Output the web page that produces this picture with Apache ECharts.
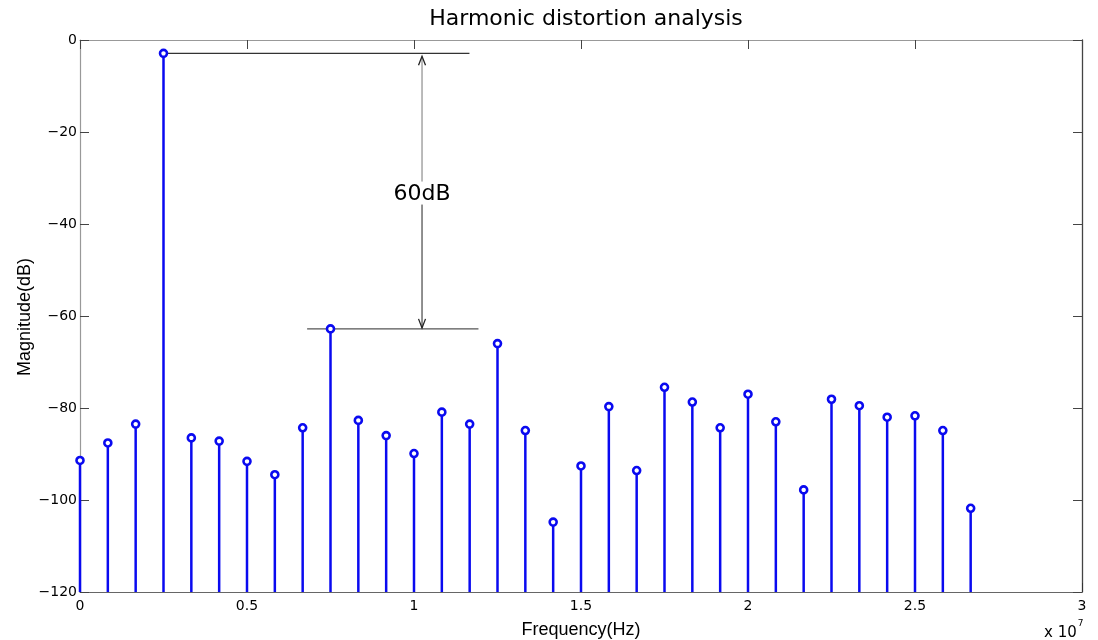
<!DOCTYPE html>
<html>
<head>
<meta charset="utf-8">
<script src="https://cdn.jsdelivr.net/npm/echarts@6/dist/echarts.min.js"></script>
<style>
  html, body { margin: 0; padding: 0; background: #fff; }
  #chart { width: 1098px; height: 640px; }
</style>
</head>
<body>
<div id="chart"></div>
<script>
// Spectrum bins (Hz) and their magnitudes (dB)
const frequencies = [
  0, 833333, 1666667, 2500000, 3333333, 4166667, 5000000, 5833333,
  6666667, 7500000, 8333333, 9166667, 10000000, 10833333, 11666667, 12500000,
  13333333, 14166667, 15000000, 15833333, 16666667, 17500000, 18333333, 19166667,
  20000000, 20833333, 21666667, 22500000, 23333333, 24166667, 25000000, 25833333,
  26666667
];
const magnitudes = [
  -91.4, -87.6, -83.5, -2.9, -86.5, -87.2, -91.6, -94.5,
  -84.3, -62.8, -82.7, -86.0, -89.9, -80.9, -83.5, -66.0,
  -84.9, -104.8, -92.6, -79.7, -93.6, -75.5, -78.7, -84.3,
  -77.0, -83.0, -97.8, -78.1, -79.5, -82.0, -81.7, -84.9,
  -101.8
];

// Dimension annotation: fundamental level vs. largest spur
const fundamentalLevel = -2.9;
const spurLevel = -62.8;
const topRefLine = [[2500000, fundamentalLevel], [11660000, fundamentalLevel]];
const bottomRefLine = [[6800000, spurLevel], [11930000, spurLevel]];
const arrowX = 10240000;
const arrowLabel = '60dB';
const labelLevel = -33.6;

const BLUE = '#0a0af0';
const FONT = '"Liberation Sans", Arial, Helvetica, sans-serif';
const TICK_FONT = '"DejaVu Sans", sans-serif';
const fmtTick = v => String(v).replace('-', '\u2212');

const chart = echarts.init(document.getElementById('chart'), null, { renderer: 'canvas' });

const stemData = frequencies.map((f, i) => [f, magnitudes[i]]);

const option = {
  animation: false,
  backgroundColor: '#ffffff',
  textStyle: { fontFamily: FONT },
  title: {
    text: 'Harmonic distortion analysis',
    left: 581,
    top: 3,
    textAlign: 'center',
    textStyle: { fontFamily: TICK_FONT, fontSize: 22, fontWeight: 'normal', color: '#000' }
  },
  grid: { left: 80, right: 16, top: 40, bottom: 48, containLabel: false, outerBoundsMode: 'none' },
  xAxis: [
    {
      type: 'value', min: 0, max: 30000000, interval: 5000000,
      name: 'Frequency(Hz)', nameLocation: 'middle', nameGap: 29,
      nameTextStyle: { fontFamily: FONT, fontSize: 18, color: '#000' },
      axisLine: { show: true, onZero: false, lineStyle: { color: '#666', width: 1.2 } },
      axisTick: { show: true, inside: true, length: 9, lineStyle: { color: '#333' } },
      axisLabel: {
        fontFamily: TICK_FONT, fontSize: 14, color: '#000', margin: 7,
        formatter: v => fmtTick(+(v / 1e7).toFixed(2))
      },
      splitLine: { show: false }
    },
    {
      type: 'value', position: 'top', min: 0, max: 30000000, interval: 5000000,
      axisLine: { show: true, onZero: false, lineStyle: { color: '#999', width: 1.2 } },
      axisTick: { show: true, inside: true, length: 9, lineStyle: { color: '#444' } },
      axisLabel: { show: false },
      splitLine: { show: false }
    }
  ],
  yAxis: [
    {
      type: 'value', min: -120, max: 0, interval: 20,
      axisLine: { show: true, onZero: false, lineStyle: { color: '#999', width: 1.2 } },
      axisTick: { show: true, inside: true, length: 9, lineStyle: { color: '#444' } },
      axisLabel: { fontFamily: TICK_FONT, fontSize: 14, color: '#000', margin: 3, formatter: v => fmtTick(v) },
      splitLine: { show: false }
    },
    {
      type: 'value', position: 'right', min: -120, max: 0, interval: 20,
      axisLine: { show: true, onZero: false, lineStyle: { color: '#444', width: 1.3 } },
      axisTick: { show: true, inside: true, length: 9, lineStyle: { color: '#444' } },
      axisLabel: { show: false },
      splitLine: { show: false }
    }
  ],
  graphic: [
    {
      // y-axis title, set vertically beside the tick labels
      type: 'text', x: 25, y: 317, rotation: Math.PI / 2,
      style: {
        text: 'Magnitude(dB)', align: 'center', verticalAlign: 'middle',
        fontFamily: FONT, fontSize: 18, fill: '#000'
      }
    },
    {
      type: 'text', left: 1044, top: 619,
      style: {
        text: '{b|x 10}{s|7}',
        rich: {
          b: { fontFamily: TICK_FONT, fontSize: 15, fill: '#000', verticalAlign: 'bottom', padding: [7, 0, 0, 0] },
          s: { fontFamily: TICK_FONT, fontSize: 9, fill: '#000', verticalAlign: 'top', padding: [0, 0, 10, 1] }
        },
        fill: '#000'
      }
    }
  ],
  series: [
    {
      // stems from the bottom of the axis up to each magnitude
      type: 'custom',
      name: 'stems',
      silent: true,
      data: stemData,
      encode: { x: 0, y: 1 },
      renderItem: (params, api) => {
        const top = api.coord([api.value(0), api.value(1)]);
        const base = api.coord([api.value(0), -120]);
        return {
          type: 'line',
          shape: { x1: top[0], y1: top[1], x2: base[0], y2: base[1] },
          style: { stroke: BLUE, lineWidth: 2.5 }
        };
      },
      z: 2
    },
    {
      type: 'scatter',
      name: 'heads',
      silent: true,
      data: stemData,
      symbol: 'circle',
      symbolSize: 7,
      itemStyle: { color: '#ffffff', borderColor: BLUE, borderWidth: 2.6, opacity: 1 },
      z: 4
    },
    {
      type: 'line', silent: true, data: topRefLine, symbol: 'none',
      lineStyle: { color: '#333', width: 1.1 }, z: 3
    },
    {
      type: 'line', silent: true, data: bottomRefLine, symbol: 'none',
      lineStyle: { color: '#555', width: 1.1 }, z: 3
    },
    {
      // double-headed dimension arrow with its text
      type: 'custom',
      silent: true,
      data: [[arrowX, fundamentalLevel, spurLevel, labelLevel]],
      renderItem: (params, api) => {
        const x = api.value(0);
        const pTop = api.coord([x, api.value(1)]);
        const pBot = api.coord([x, api.value(2)]);
        const pLab = api.coord([x, api.value(3)]);
        const yTop = pTop[1] + 3;
        const yBot = pBot[1] - 1;
        const gapTop = pLab[1] - 13;
        const gapBot = pLab[1] + 10;
        const cx = pTop[0];
        return {
          type: 'group',
          children: [
            { type: 'line', shape: { x1: cx, y1: yTop, x2: cx, y2: gapTop }, style: { stroke: '#777', lineWidth: 1 } },
            { type: 'line', shape: { x1: cx, y1: gapBot, x2: cx, y2: yBot }, style: { stroke: '#222', lineWidth: 1 } },
            { type: 'polyline', shape: { points: [[cx - 3.5, yTop + 9], [cx, yTop], [cx + 3.5, yTop + 9]] }, style: { stroke: '#222', lineWidth: 1.3, fill: null } },
            { type: 'polyline', shape: { points: [[cx - 3.5, yBot - 9], [cx, yBot], [cx + 3.5, yBot - 9]] }, style: { stroke: '#222', lineWidth: 1.3, fill: null } },
            {
              type: 'text',
              style: {
                x: cx, y: pLab[1], text: arrowLabel, align: 'center', verticalAlign: 'middle',
                fontFamily: TICK_FONT, fontSize: 22, fill: '#000'
              }
            }
          ]
        };
      },
      z: 5
    }
  ]
};

chart.setOption(option);
</script>
</body>
</html>
